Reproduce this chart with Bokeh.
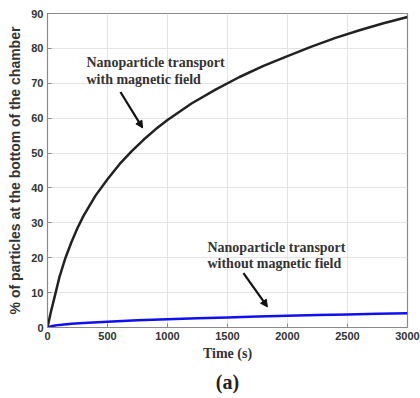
from bokeh.plotting import figure
from bokeh.models import (Arrow, NormalHead, Title, Range1d, FixedTicker, ColumnDataSource)
from bokeh.core.properties import value
from bokeh.embed import file_html
from bokeh.resources import INLINE

# Data
time_mag = [0, 25, 50, 75, 100, 150, 200, 250, 300, 400, 500, 600, 700, 800, 900,
            1000, 1200, 1400, 1600, 1800, 2000, 2200, 2400, 2600, 2800, 3000]
pct_mag = [0, 4, 7.5, 11, 14.5, 20, 24.5, 28.5, 32, 37.8, 42.5, 46.8, 50.5, 53.8, 56.8,
           59.5, 64.2, 68.2, 71.8, 75, 77.8, 80.5, 83, 85.2, 87.2, 89]
time_nomag = [0, 50, 100, 200, 300, 500, 750, 1000, 1250, 1500, 1750, 2000, 2250,
              2500, 2750, 3000]
pct_nomag = [0, 0.5, 0.75, 1.05, 1.3, 1.68, 2.05, 2.37, 2.65, 2.9, 3.13, 3.35, 3.55,
             3.74, 3.93, 4.1]
x_ticks = [0, 500, 1000, 1500, 2000, 2500, 3000]
y_ticks = [0, 10, 20, 30, 40, 50, 60, 70, 80, 90]

ann_text = ["Nanoparticle transport", "with magnetic field",
            "Nanoparticle transport", "without magnetic field"]
ann_x = [325, 325, 1333, 1333]
ann_y = [76, 71.2, 22.8, 18.4]

p = figure(width=420, height=398, output_backend="svg", toolbar_location=None,
           x_range=Range1d(0, 3000), y_range=Range1d(0, 90),
           min_border_left=47, min_border_right=13, min_border_top=13,
           min_border_bottom=71)
p.background_fill_color = "white"
p.border_fill_color = "white"
p.outline_line_color = "#8a8a8a"
p.outline_line_width = 1.2

for ax in (p.xaxis[0], p.yaxis[0]):
    ax.axis_line_color = "#8a8a8a"
    ax.major_tick_in = 4
    ax.major_tick_out = 0
    ax.minor_tick_line_color = None
    ax.major_tick_line_color = "#8a8a8a"
    ax.major_label_text_font = "Liberation Sans"
    ax.major_label_text_font_style = "bold"
    ax.major_label_text_font_size = "11px"
    ax.major_label_text_color = "#333333"
    ax.major_label_standoff = 4

p.xaxis[0].ticker = FixedTicker(ticks=x_ticks)
p.yaxis[0].ticker = FixedTicker(ticks=y_ticks)
p.xaxis[0].axis_label = "Time (s)"
p.xaxis[0].axis_label_text_font = "Liberation Serif"
p.xaxis[0].axis_label_text_font_style = "bold"
p.xaxis[0].axis_label_text_font_size = "14px"
p.xaxis[0].axis_label_text_color = "#333333"
p.xaxis[0].axis_label_standoff = 3
p.yaxis[0].axis_label = "% of particles at the bottom of the chamber"
p.yaxis[0].axis_label_text_font = "Liberation Sans"
p.yaxis[0].axis_label_text_font_style = "bold"
p.yaxis[0].axis_label_text_font_size = "14px"
p.yaxis[0].axis_label_text_color = "#333333"
p.yaxis[0].axis_label_standoff = 5

p.xgrid.grid_line_color = "#e4e4e4"
p.ygrid.grid_line_color = "#e4e4e4"
p.xgrid.ticker = FixedTicker(ticks=x_ticks)
p.ygrid.ticker = FixedTicker(ticks=y_ticks)

src_mag = ColumnDataSource(dict(t=time_mag, v=pct_mag))
src_nomag = ColumnDataSource(dict(t=time_nomag, v=pct_nomag))
p.line("t", "v", source=src_mag, line_color="#222222", line_width=2.5)
p.line("t", "v", source=src_nomag, line_color="#1010ee", line_width=2.5)

src_ann = ColumnDataSource(dict(x=ann_x, y=ann_y, text=ann_text))
p.text("x", "y", text="text", source=src_ann,
       text_font=value("'Liberation Serif', 'Times New Roman', serif"),
       text_font_style="bold", text_font_size="14px", text_color="#333333",
       text_baseline="middle", text_align="left")

p.add_layout(Arrow(x_start=608, y_start=67.5, x_end=792, y_end=57.2,
                   line_color="#111111", line_width=2.2,
                   end=NormalHead(size=7, fill_color="#111111", line_color="#111111")))
p.add_layout(Arrow(x_start=1633, y_start=15.6, x_end=1833, y_end=5.9,
                   line_color="#111111", line_width=2.2,
                   end=NormalHead(size=7, fill_color="#111111", line_color="#111111")))

p.add_layout(Title(text="(a)", align="center", text_font="Liberation Serif",
                   text_font_style="bold", text_font_size="20px",
                   text_color="#222222", standoff=10), "below")

open("out.html", "w").write(file_html(p, INLINE))
